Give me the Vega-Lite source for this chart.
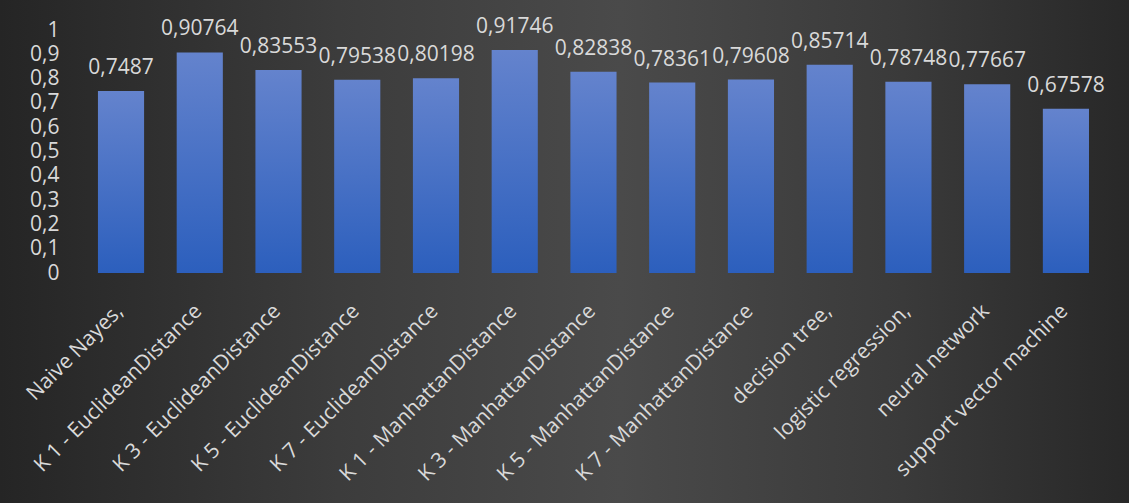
{
  "$schema": "https://vega.github.io/schema/vega-lite/v6.json",
  "width": 1129,
  "height": 503,
  "autosize": {"type": "none"},
  "padding": 0,
  "background": "#2a2a2a",
  "config": {
    "view": {
      "stroke": null,
      "fill": {
        "gradient": "linear",
        "x1": 0, "y1": 0, "x2": 1, "y2": 0,
        "stops": [
          {"offset": 0, "color": "#252525"},
          {"offset": 0.3, "color": "#3c3c3c"},
          {"offset": 0.55, "color": "#4a4a4a"},
          {"offset": 0.8, "color": "#3a3a3a"},
          {"offset": 1, "color": "#282828"}
        ]
      }
    },
    "font": "Open Sans",
    "axis": {"labelFont": "Open Sans"}
  },
  "data": {
    "values": [
      {"model": "Naive Nayes,", "value": 0.7487},
      {"model": "K 1 - EuclideanDistance", "value": 0.90764},
      {"model": "K 3 - EuclideanDistance", "value": 0.83553},
      {"model": "K 5 - EuclideanDistance", "value": 0.79538},
      {"model": "K 7 - EuclideanDistance", "value": 0.80198},
      {"model": "K 1 - ManhattanDistance", "value": 0.91746},
      {"model": "K 3 - ManhattanDistance", "value": 0.82838},
      {"model": "K 5 - ManhattanDistance", "value": 0.78361},
      {"model": "K 7 - ManhattanDistance", "value": 0.79608},
      {"model": "decision tree,", "value": 0.85714},
      {"model": "logistic regression,", "value": 0.78748},
      {"model": "neural network", "value": 0.77667},
      {"model": "support vector machine", "value": 0.67578}
    ]
  },
  "transform": [
    {"calculate": "replace(toString(datum.value), '.', ',')", "as": "label"}
  ],
  "encoding": {
    "x": {
      "field": "model",
      "type": "nominal",
      "sort": null,
      "title": null,
      "scale": {"paddingInner": 0.414, "paddingOuter": 0.876, "align": 0.71},
      "axis": {
        "orient": "bottom",
        "offset": -230,
        "domain": false,
        "ticks": false,
        "grid": false,
        "labelAngle": -45,
        "labelPadding": 27,
        "labelOffset": -9,
        "labelFontSize": 21,
        "labelColor": "#d9d9d9",
        "labelLimit": 400
      }
    },
    "y": {
      "field": "value",
      "type": "quantitative",
      "title": null,
      "scale": {"domain": [-0.9465, 1.1235], "nice": false, "zero": false},
      "axis": {
        "orient": "left",
        "offset": -83,
        "values": [0, 0.1, 0.2, 0.3, 0.4, 0.5, 0.6, 0.7, 0.8, 0.9, 1],
        "labelExpr": "replace(toString(datum.value), '.', ',')",
        "domain": false,
        "ticks": false,
        "grid": false,
        "labelPadding": 24,
        "labelFontSize": 21,
        "labelColor": "#d9d9d9"
      }
    }
  },
  "layer": [
    {
      "mark": {
        "type": "bar",
        "color": {
          "gradient": "linear",
          "x1": 0, "y1": 0, "x2": 0, "y2": 1,
          "stops": [
            {"offset": 0, "color": "#6483cd"},
            {"offset": 1, "color": "#2c5fbd"}
          ]
        }
      }
    },
    {
      "mark": {
        "type": "text",
        "baseline": "alphabetic",
        "align": "center",
        "dy": -17,
        "fontSize": 21,
        "color": "#d9d9d9"
      },
      "encoding": {"text": {"field": "label"}}
    },
    {
      "data": {"values": [{"a": "Naive Nayes,", "b": "support vector machine"}]},
      "mark": {"type": "rule", "color": "#9a9a9a", "strokeWidth": 2},
      "encoding": {
        "x": {"field": "a", "type": "nominal", "bandPosition": -0.326},
        "x2": {"field": "b", "bandPosition": 1.326},
        "y": {"datum": 0}
      }
    }
  ]
}
